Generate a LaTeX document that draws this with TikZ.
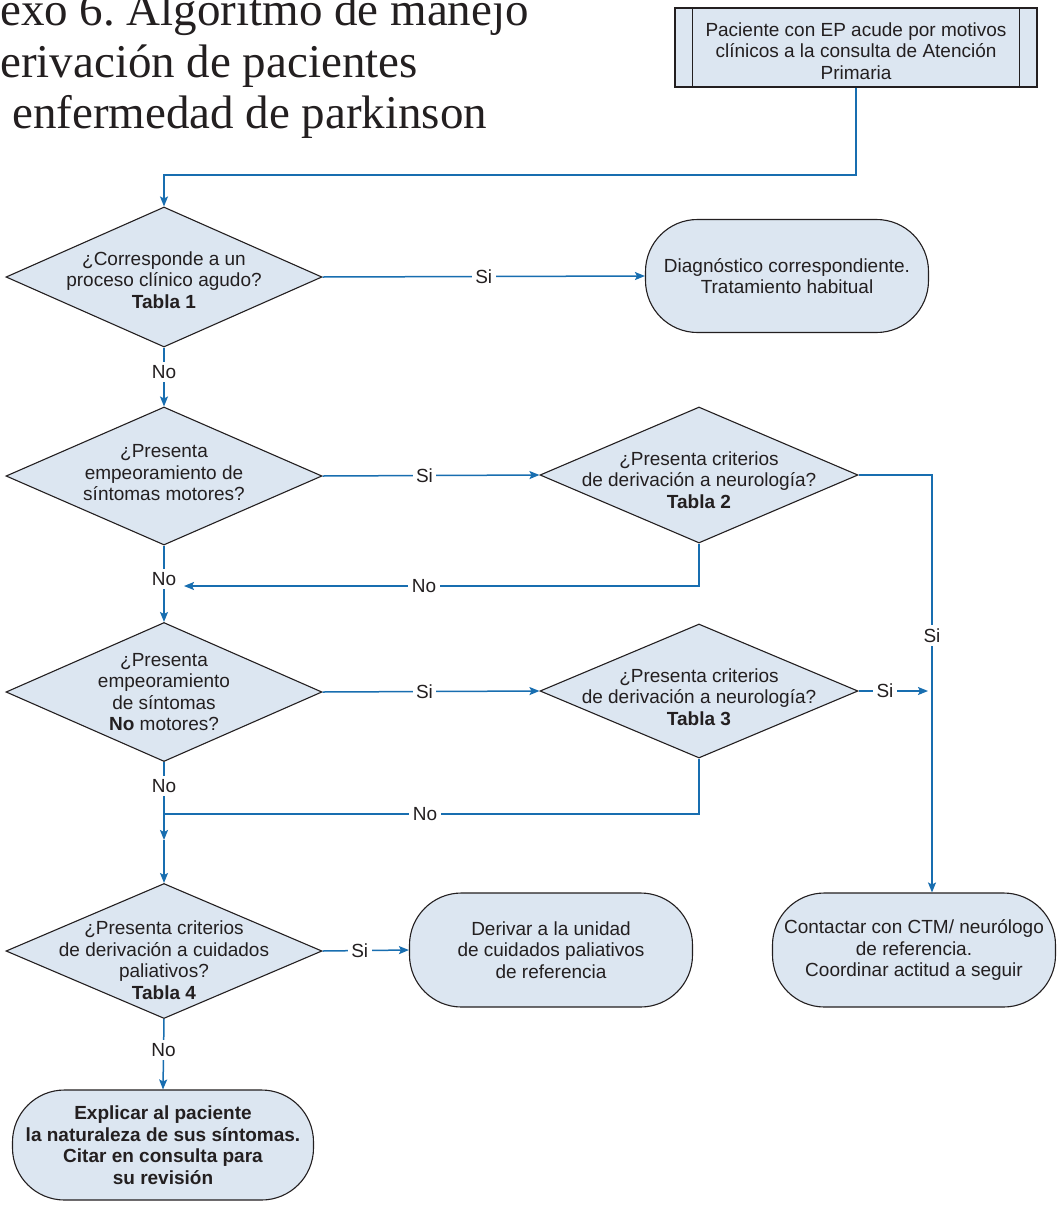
\documentclass[tikz,border=0pt]{standalone}
\usepackage{fontspec}
\setmainfont{Liberation Sans}
\newfontfamily\titlefont{Liberation Serif}
\usetikzlibrary{shapes.geometric,arrows.meta,calc}
\definecolor{boxfill}{RGB}{220,230,241}
\definecolor{flow}{RGB}{24,110,176}
\definecolor{edge}{RGB}{35,31,32}
\begin{document}
\frenchspacing
\begin{tikzpicture}[x=1pt,y=-1pt,
  every node/.style={font=\fontsize{19}{21.5}\selectfont, text=edge},
  dia/.style={diamond, draw=edge, fill=boxfill, line width=1.1pt, minimum width=316pt, inner sep=0pt},
  term/.style={rectangle, rounded corners=52pt, draw=edge, fill=boxfill, line width=1.1pt, minimum width=283pt, minimum height=113pt, align=center, inner sep=0pt},
  txt/.style={align=center, inner sep=0pt},
  conn/.style={draw=flow, line width=1.5pt},
  arr/.style={conn, -{Stealth[length=10pt,width=8pt,inset=2pt]}},
  lbl/.style={fill=white, inner sep=3.5pt},
  ttl/.style={anchor=base west, inner sep=0pt, font=\titlefont\fontsize{47}{51}\selectfont}
]
\useasboundingbox[fill=white] (0,0) rectangle (1060,1205);

% title
\node[ttl] (t1) at (0,25) {exo 6. Algoritmo de manejo};
\node[ttl] (t2) at (0,77) {erivación de pacientes};
\node[ttl] (t3) at (12,128) {enfermedad de parkinson};

% start (predefined process)
\node[draw=edge, fill=boxfill, line width=1.1pt, minimum width=362pt, minimum height=79pt, inner sep=0pt] (start) at (856,47.5) {};
\draw[draw=edge, line width=1.1pt] ($(start.north west)+(18,0)$) -- ($(start.south west)+(18,0)$);
\draw[draw=edge, line width=1.1pt] ($(start.north east)+(-18,0)$) -- ($(start.south east)+(-18,0)$);
\node[txt] (starttxt) at (856,51) {Paciente con EP acude por motivos\\clínicos a la consulta de Atención\\Primaria};

% diamonds
\node[dia, minimum height=140pt] (d1) at (164,277) {};
\node[txt] (d1t) at (164,280) {¿Corresponde a un\\proceso clínico agudo?\\\textbf{Tabla 1}};

\node[dia, minimum height=138pt] (d2) at (164,476) {};
\node[txt] (d2t) at (164,473) {¿Presenta\\empeoramiento de\\síntomas motores?};

\node[dia, minimum width=318pt, minimum height=136pt] (d3) at (699,475) {};
\node[txt] (d3t) at (699,480) {¿Presenta criterios\\de derivación a neurología?\\\textbf{Tabla 2}};

\node[dia, minimum height=139pt] (d4) at (164,692) {};
\node[txt] (d4t) at (164,692) {¿Presenta\\empeoramiento\\de síntomas\\\textbf{No} motores?};

\node[dia, minimum width=318pt, minimum height=134pt] (d5) at (699,691) {};
\node[txt] (d5t) at (699,697) {¿Presenta criterios\\de derivación a neurología?\\\textbf{Tabla 3}};

\node[dia, minimum height=135pt] (d6) at (164,951) {};
\node[txt] (d6t) at (164,960) {¿Presenta criterios\\de derivación a cuidados\\paliativos?\\\textbf{Tabla 4}};

% terminals
\node[term] (r1) at (787,276) {Diagnóstico correspondiente.\\Tratamiento habitual};
\node[term, minimum height=114pt] (r3) at (551,950) {Derivar a la unidad\\de cuidados paliativos\\de referencia};
\node[term, minimum height=114pt] (r4) at (914,950) {Contactar con CTM/ neurólogo\\de referencia.\\Coordinar actitud a seguir};
\node[term, minimum width=301pt, minimum height=110pt, font=\bfseries\fontsize{19}{21.5}\selectfont] (r5) at (163,1145) {Explicar al paciente\\la naturaleza de sus síntomas.\\Citar en consulta para\\su revisión};

% connectors
\coordinate (bend1) at (856,175);
\draw[arr] (start.south) -- (bend1) -| (d1.north);
\draw[arr] (d1.east) -- node[lbl]{Si} (r1.west);
\draw[arr] (d1.south) -- node[lbl,pos=0.42]{No} (d2.north);
\draw[arr] (d2.east) -- node[lbl,pos=0.47]{Si} (d3.west);

\coordinate (rx) at (932,476);
\draw[arr] (d3.east) -- (d3.east -| rx) -- node[lbl,pos=0.385]{Si} (rx |- r4.north);
\coordinate (n1) at (184,586);
\draw[arr] (d3.south) |- node[lbl,pos=0.767]{No} (n1);
\draw[arr] (d2.south) -- node[lbl,pos=0.44]{No} (d4.north);

\draw[arr] (d4.east) -- node[lbl,pos=0.47]{Si} (d5.west);
\draw[arr, shorten >=4pt] (d5.east) -- node[lbl,pos=0.36]{Si} (d5.east -| rx);

\coordinate (j) at (164,814);
\coordinate (m) at (164,840);
\draw[conn] (d4.south) -- node[lbl,pos=0.46]{No} (j);
\draw[conn] (d5.south) |- node[lbl,pos=0.756]{No} (j);
\draw[arr] (j) -- (m);
\draw[arr] (m) -- (d6.north);

\draw[arr] (d6.east) -- node[lbl,pos=0.43]{Si} (r3.west);
\draw[arr] (d6.south) -- node[lbl,pos=0.44]{No} (r5.north);
\end{tikzpicture}
\end{document}
